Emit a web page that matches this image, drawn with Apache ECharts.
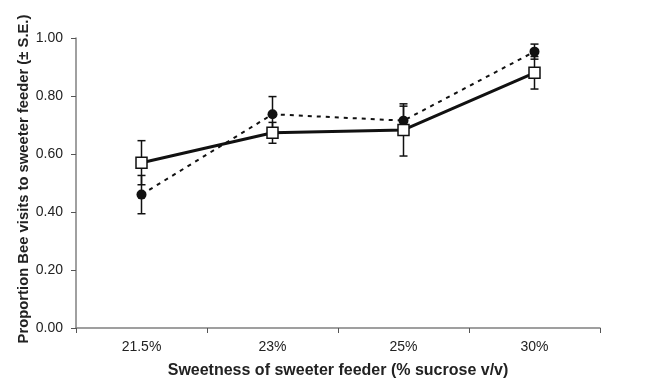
<!DOCTYPE html>
<html>
<head>
<meta charset="utf-8">
<script src="https://cdn.jsdelivr.net/npm/echarts@6/dist/echarts.min.js"></script>
<style>html,body{margin:0;padding:0;background:#fff}#c{width:650px;height:378px}</style>
</head>
<body>
<div id="c"></div>
<script>
var categories = ['21.5%', '23%', '25%', '30%'];
var yTicks = [0, 0.2, 0.4, 0.6, 0.8, 1.0];
var squareValues = [0.57, 0.673, 0.683, 0.88];
var squareErrors = [0.076, 0.036, 0.09, 0.056];
var circleValues = [0.46, 0.737, 0.715, 0.953];
var circleErrors = [0.066, 0.061, 0.05, 0.026];

function errData(vals, errs) {
  return vals.map(function (v, i) { return [i, v - errs[i], v + errs[i]]; });
}
function errRender(params, api) {
  var x = api.value(0);
  var lo = api.coord([x, api.value(1)]);
  var hi = api.coord([x, api.value(2)]);
  var hw = 4;
  var st = { stroke: '#111', lineWidth: 1.5 };
  return {
    type: 'group',
    children: [
      { type: 'line', shape: { x1: lo[0], y1: lo[1], x2: hi[0], y2: hi[1] }, style: st },
      { type: 'line', shape: { x1: lo[0] - hw, y1: lo[1], x2: lo[0] + hw, y2: lo[1] }, style: st },
      { type: 'line', shape: { x1: hi[0] - hw, y1: hi[1], x2: hi[0] + hw, y2: hi[1] }, style: st }
    ]
  };
}

var chart = echarts.init(document.getElementById('c'), null, { renderer: 'canvas' });
chart.setOption({
  animation: false,
  backgroundColor: '#fff',
  grid: { left: 76, right: 50, top: 38, bottom: 50, outerBoundsMode: 'none', containLabel: false },
  xAxis: {
    type: 'category',
    data: categories,
    boundaryGap: true,
    name: 'Sweetness of sweeter feeder (% sucrose v/v)',
    nameLocation: 'middle',
    nameGap: 35,
    nameMoveOverlap: false,
    nameTextStyle: { fontFamily: 'Liberation Sans', fontSize: 16, fontWeight: 'bold', color: '#222' },
    axisLine: { lineStyle: { color: '#808080', width: 1.5 } },
    axisTick: { show: true, inside: false, length: 5, lineStyle: { color: '#555' } },
    axisLabel: { margin: 12, fontFamily: 'Liberation Sans', fontSize: 14, color: '#222' },
    splitLine: { show: false }
  },
  yAxis: {
    type: 'value',
    min: 0, max: 1, interval: 0.2,
    name: 'Proportion Bee visits to sweeter feeder (\u00b1 S.E.)',
    nameLocation: 'middle',
    nameGap: 45,
    nameMoveOverlap: false,
    nameTextStyle: { fontFamily: 'Liberation Sans', fontSize: 14.8, fontWeight: 'bold', color: '#222', padding: [0, 0, 0, 8] },
    axisLine: { show: true, lineStyle: { color: '#808080', width: 1.5 } },
    axisTick: { show: true, inside: false, length: 5, lineStyle: { color: '#555' } },
    axisLabel: {
      margin: 13, fontFamily: 'Liberation Sans', fontSize: 14, color: '#222',
      formatter: function (v) { return v.toFixed(2); }
    },
    splitLine: { show: false }
  },
  series: [
    {
      type: 'custom', renderItem: errRender, data: errData(circleValues, circleErrors),
      encode: { x: 0, y: [1, 2] }, z: 1, silent: true
    },
    {
      type: 'custom', renderItem: errRender, data: errData(squareValues, squareErrors),
      encode: { x: 0, y: [1, 2] }, z: 1, silent: true
    },
    {
      type: 'line', data: circleValues, z: 3,
      symbol: 'circle', symbolSize: 10,
      itemStyle: { color: '#111', borderColor: '#111', borderWidth: 0 },
      lineStyle: { color: '#111', width: 2, type: [4, 5] }
    },
    {
      type: 'line', data: squareValues, z: 4,
      symbol: 'rect', symbolSize: 11,
      itemStyle: { color: '#fff', borderColor: '#111', borderWidth: 1.5 },
      lineStyle: { color: '#111', width: 3 }
    }
  ]
});
</script>
</body>
</html>
